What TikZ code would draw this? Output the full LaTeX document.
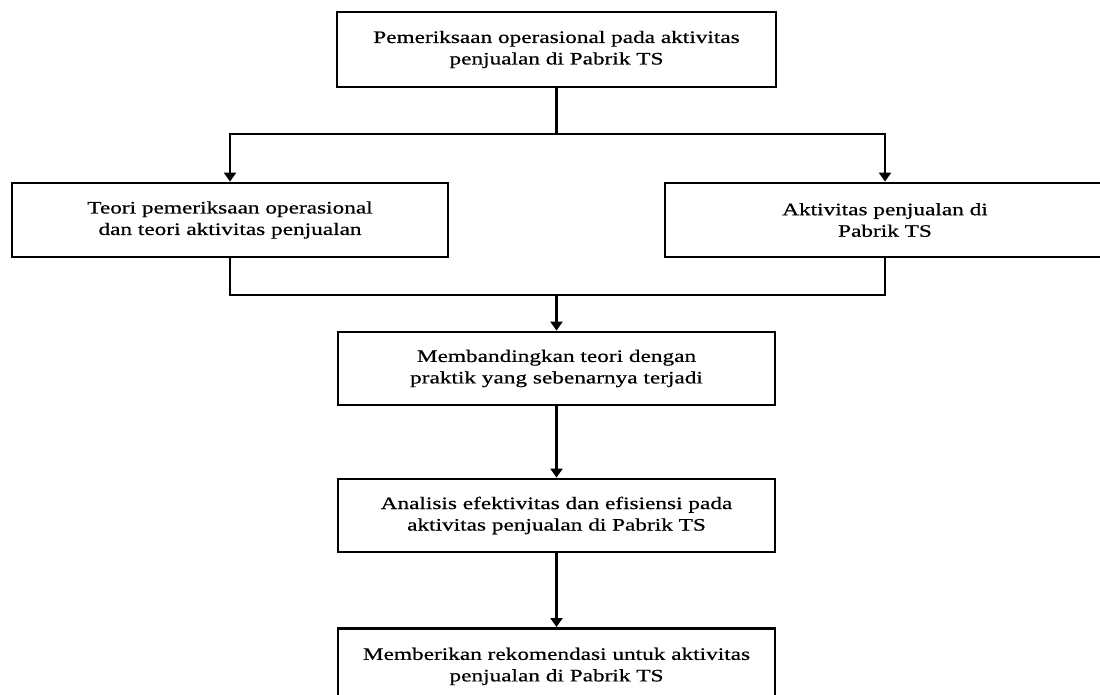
\documentclass[tikz,border=0pt]{standalone}
\usepackage{fontspec}
\setmainfont[FakeStretch=1.33,FakeBold=0.6]{Liberation Serif}
\usetikzlibrary{arrows.meta}
\begin{document}
\begin{tikzpicture}[x=1pt,y=-1pt,
  stepbox/.style={draw=black,line width=2.8pt,fill=white,align=center,inner sep=0pt,
    font=\fontsize{17.5}{21.5}\selectfont},
  conn/.style={line width=2.6pt},
  arr/.style={conn,-{Triangle[width=12pt,length=9pt]}}]
\useasboundingbox (0,0) rectangle (1100,695);
\clip (0,0) rectangle (1100,695);
\node[stepbox,minimum width=439pt,minimum height=75pt] (top) at (556.5,49.5)
  {Pemeriksaan operasional pada aktivitas\\penjualan di Pabrik TS};
\node[stepbox,minimum width=436pt,minimum height=74pt] (left) at (230,220)
  {Teori pemeriksaan operasional\\dan teori aktivitas penjualan};
\node[stepbox,minimum width=440pt,minimum height=74pt] (right) at (885,220)
  {Aktivitas penjualan di\\Pabrik TS};
\node[stepbox,minimum width=437pt,minimum height=73pt] (mid) at (556.5,368.5)
  {Membandingkan teori dengan\\praktik yang sebenarnya terjadi};
\node[stepbox,minimum width=437pt,minimum height=73pt] (ana) at (556.5,515.5)
  {Analisis efektivitas dan efisiensi pada\\aktivitas penjualan di Pabrik TS};
\node[stepbox,minimum width=437pt,minimum height=76pt,anchor=north] (rek) at (556.5,627)
  {Memberikan rekomendasi untuk aktivitas\\penjualan di Pabrik TS};
\coordinate (j1) at (556.5,134);
\coordinate (j2) at (556.5,295);
\draw[conn] (top.south) -- (j1);
\draw[arr] (j1) -| (left.north);
\draw[arr] (j1) -| (right.north);
\draw[conn] (left.south) |- (j2) -| (right.south);
\draw[arr] (j2) -- (mid.north);
\draw[arr] (mid.south) -- (ana.north);
\draw[arr] (ana.south) -- (rek.north);
\end{tikzpicture}
\end{document}
